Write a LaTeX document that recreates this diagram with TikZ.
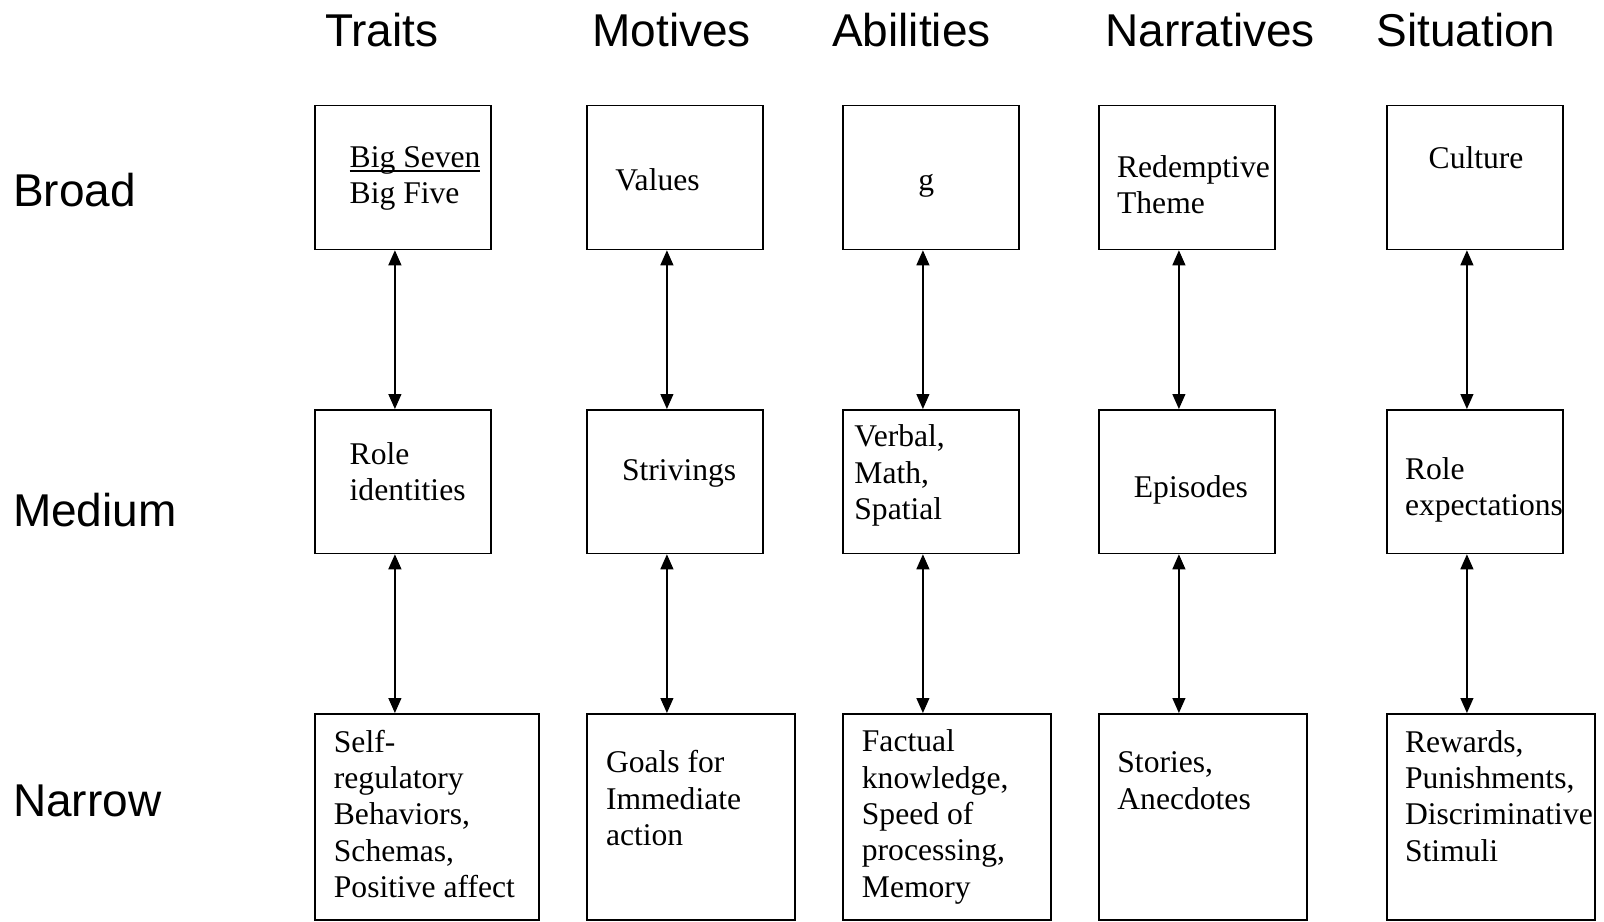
\documentclass[tikz,border=0pt]{standalone}
\usepackage{fontspec}
\setmainfont{Liberation Serif}
\newfontfamily\headfont{Liberation Sans}
\usetikzlibrary{arrows.meta}

% lines of a box, baseline on the first one
\newcommand{\boxlines}[1]{\begin{tabular}[t]{@{}l@{}}#1\end{tabular}}
% heavier underline
\newcommand{\ruledtext}[1]{\leavevmode\setbox0\hbox{#1}\rlap{\rule[-2.6pt]{\wd0}{1pt}}\box0}

\tikzset{
  box/.style={draw=black, line width=0.9pt, rectangle, inner sep=0pt, anchor=north west},
  boxtext/.style={anchor=base west, inner sep=0pt, font=\fontsize{15.8}{18.2}\selectfont},
  heading/.style={anchor=base, inner sep=0pt, font=\headfont\fontsize{23}{27}\selectfont},
  level/.style={anchor=base west, inner sep=0pt, font=\headfont\fontsize{23}{27}\selectfont},
  link/.style={line width=0.6pt, {Triangle[length=7.5pt,width=6.5pt]}-{Triangle[length=7.5pt,width=6.5pt]}}
}

\begin{document}
\begin{tikzpicture}[x=0.5pt, y=-0.5pt]
    \useasboundingbox (0,0) rectangle (1604,921);

    % Columnas
    \node[heading] (hTraits) at (381.7,46.7) {Traits};
    \node[heading] (hMotives) at (671.7,46.7) {Motives};
    \node[heading] (hAbilities) at (911.5,46.7) {Abilities};
    \node[heading] (hNarratives) at (1210,46.7) {Narratives};
    \node[heading] (hSituation) at (1466,46.7) {Situation};

    % Niveles
    \node[level] (lBroad) at (12.6,206) {Broad};
    \node[level] (lMedium) at (12.6,526) {Medium};
    \node[level] (lNarrow) at (12.6,816) {Narrow};

    % Cajas: fila ancha
    \node[box, minimum width=88pt, minimum height=72pt] (traits1) at (314,104.5) {};
    \node[box, minimum width=88pt, minimum height=72pt] (motives1) at (586,104.5) {};
    \node[box, minimum width=88pt, minimum height=72pt] (abilities1) at (842,104.5) {};
    \node[box, minimum width=88pt, minimum height=72pt] (narratives1) at (1098,104.5) {};
    \node[box, minimum width=88pt, minimum height=72pt] (situation1) at (1386,104.5) {};

    % Cajas: fila media
    \node[box, minimum width=88pt, minimum height=71.75pt] (traits2) at (314,409) {};
    \node[box, minimum width=88pt, minimum height=71.75pt] (motives2) at (586,409) {};
    \node[box, minimum width=88pt, minimum height=71.75pt] (abilities2) at (842,409) {};
    \node[box, minimum width=88pt, minimum height=71.75pt] (narratives2) at (1098,409) {};
    \node[box, minimum width=88pt, minimum height=71.75pt] (situation2) at (1386,409) {};

    % Cajas: fila estrecha
    \node[box, minimum width=112pt, minimum height=103pt] (traits3) at (314,713) {};
    \node[box, minimum width=104pt, minimum height=103pt] (motives3) at (586,713) {};
    \node[box, minimum width=104pt, minimum height=103pt] (abilities3) at (842,713) {};
    \node[box, minimum width=104pt, minimum height=103pt] (narratives3) at (1098,713) {};
    \node[box, minimum width=104pt, minimum height=103pt] (situation3) at (1386,713) {};

    % Textos
    \node[boxtext] (txtTraits1) at (349.3,167) {\boxlines{\ruledtext{Big Seven}\\Big Five}};
    \node[boxtext] (txtMotives1) at (615,190.7) {Values};
    \node[boxtext] (txtAbilities1) at (918,190) {g};
    \node[boxtext] (txtNarratives1) at (1116.7,177.3) {\boxlines{Redemptive\\Theme}};
    \node[boxtext] (txtSituation1) at (1428.3,168.3) {Culture};

    \node[boxtext] (txtTraits2) at (349.3,464) {\boxlines{Role\\identities}};
    \node[boxtext] (txtMotives2) at (621.7,480.7) {Strivings};
    \node[boxtext] (txtAbilities2) at (854,446.7) {\boxlines{Verbal,\\Math,\\Spatial}};
    \node[boxtext] (txtNarratives2) at (1133.5,497.5) {Episodes};
    \node[boxtext] (txtSituation2) at (1404.6,479) {\boxlines{Role\\expectations}};

    \node[boxtext] (txtTraits3) at (333.5,752) {\boxlines{Self-\\regulatory\\Behaviors,\\Schemas,\\Positive affect}};
    \node[boxtext] (txtMotives3) at (605.6,772.6) {\boxlines{Goals for\\Immediate\\action}};
    \node[boxtext] (txtAbilities3) at (861.5,751.7) {\boxlines{Factual\\knowledge,\\Speed of\\processing,\\Memory}};
    \node[boxtext] (txtNarratives3) at (1117,772.6) {\boxlines{Stories,\\Anecdotes}};
    \node[boxtext] (txtSituation3) at (1404.6,752) {\boxlines{Rewards,\\Punishments,\\Discriminative\\Stimuli}};

    % Flechas
    \foreach \col in {traits,motives,abilities,narratives,situation} {
        \coordinate (\col-x) at ([xshift=-4pt]\col1.south);
        \draw[link] (\col1.south -| \col-x) -- (\col2.north -| \col-x);
        \draw[link] (\col2.south -| \col-x) -- (\col3.north -| \col-x);
    }
\end{tikzpicture}
\end{document}
